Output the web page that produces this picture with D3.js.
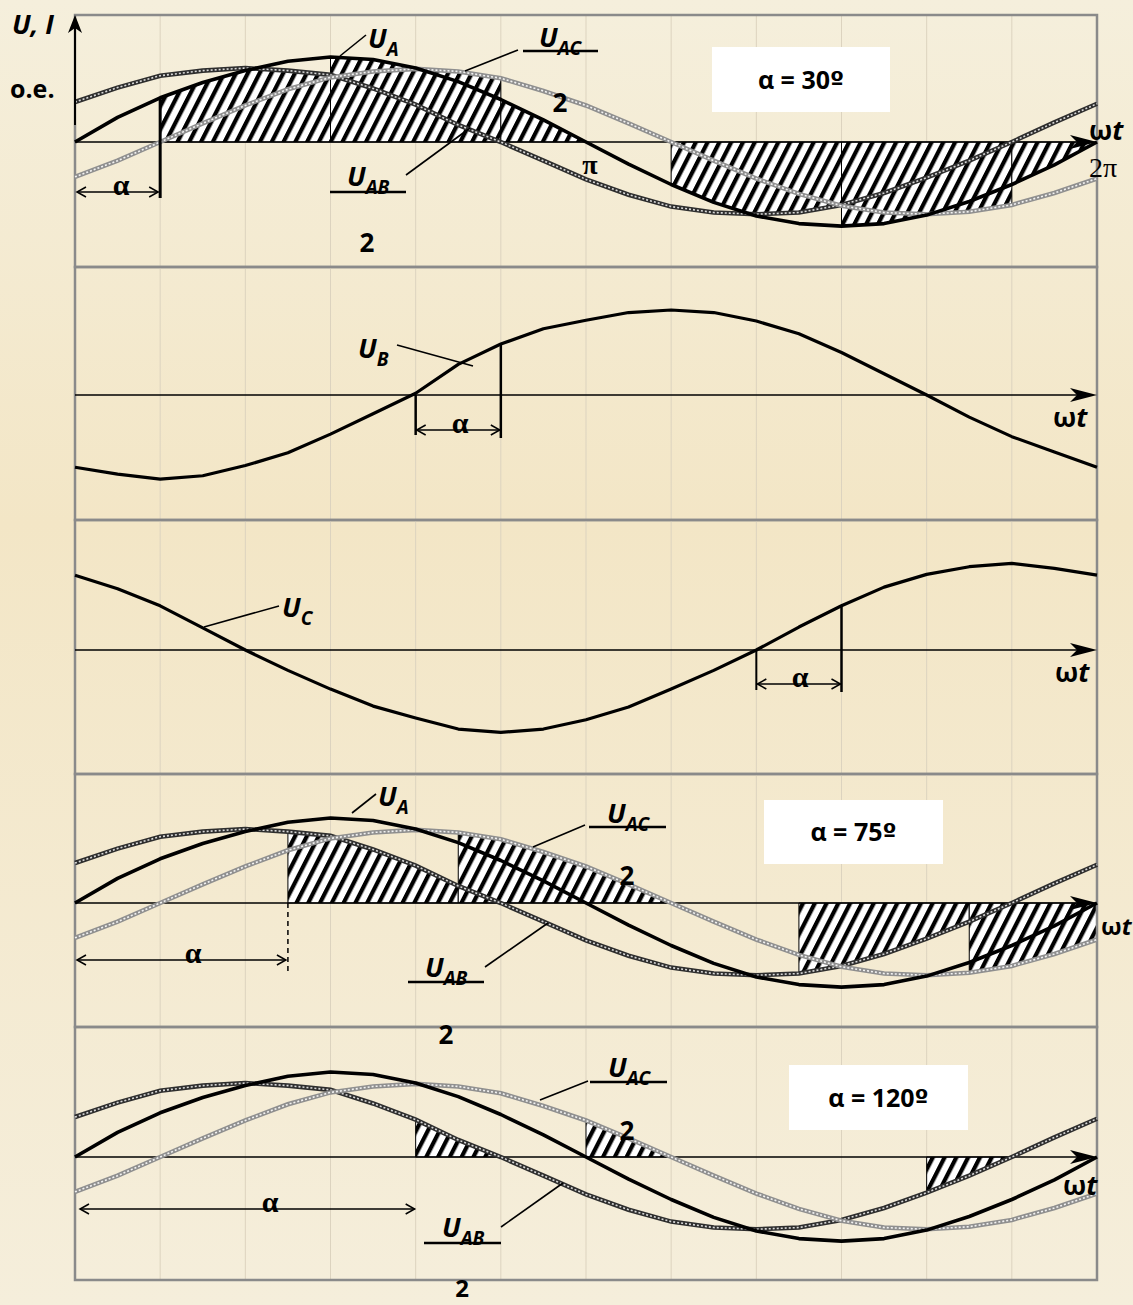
<!DOCTYPE html>
<html>
<head>
<meta charset="utf-8">
<script src="https://cdn.jsdelivr.net/npm/d3@7"></script>
<style>
  html, body { margin: 0; padding: 0; }
  body { width: 1133px; height: 1305px; overflow: hidden; }
  .lbl { font-family: "Open Sans", "Noto Sans", sans-serif; font-weight: bold; font-style: italic; font-size: 27px; fill: #000; }
  .bold { font-family: "Open Sans", "Noto Sans", sans-serif; font-weight: bold; fill: #000; }
  .serif { font-family: "Liberation Serif", "DejaVu Serif", serif; fill: #000; }
</style>
</head>
<body>
<script>
// sample angles (degrees of wt) and curve values in o.e.
const angles = [0, 15, 30, 45, 60, 75, 90, 105, 120, 135, 150, 165, 180, 195, 210, 225, 240, 255, 270, 285, 300, 315, 330, 345, 360];
const uA  = [0, 0.29, 0.52, 0.7, 0.84, 0.95, 1.0, 0.97, 0.87, 0.71, 0.5, 0.26, 0, -0.26, -0.5, -0.71, -0.87, -0.96, -0.99, -0.96, -0.86, -0.7, -0.5, -0.27, 0];
const uB  = [-0.85, -0.93, -0.99, -0.95, -0.83, -0.68, -0.46, -0.22, 0.02, 0.36, 0.6, 0.78, 0.88, 0.97, 1.0, 0.97, 0.87, 0.72, 0.5, 0.25, 0, -0.26, -0.49, -0.67, -0.85];
const uC  = [0.88, 0.72, 0.52, 0.26, 0, -0.24, -0.46, -0.66, -0.8, -0.93, -0.97, -0.93, -0.82, -0.67, -0.46, -0.24, 0, 0.27, 0.52, 0.74, 0.89, 0.98, 1.02, 0.96, 0.88];
const uAB = [0.47, 0.64, 0.78, 0.84, 0.87, 0.84, 0.79, 0.63, 0.44, 0.2, 0, -0.22, -0.44, -0.62, -0.76, -0.83, -0.85, -0.83, -0.74, -0.6, -0.42, -0.22, 0, 0.23, 0.45];
const uAC = [-0.41, -0.22, 0, 0.22, 0.43, 0.62, 0.76, 0.83, 0.86, 0.83, 0.75, 0.6, 0.43, 0.22, 0, -0.22, -0.43, -0.61, -0.75, -0.83, -0.85, -0.82, -0.74, -0.6, -0.43];

const alphas = [30, 75, 120];

// hatched (conducting) intervals: boundary is U_A combined with a line voltage
const hatch30 = [
  { from: 30,  to: 90,  sign: 1,  ref: "AB", mode: "inner" },
  { from: 90,  to: 150, sign: 1,  ref: "AC", mode: "outer" },
  { from: 150, to: 180, sign: 1,  ref: "A",  mode: "own" },
  { from: 210, to: 270, sign: -1, ref: "AB", mode: "inner" },
  { from: 270, to: 330, sign: -1, ref: "AC", mode: "outer" },
  { from: 330, to: 360, sign: -1, ref: "A",  mode: "own" }
];
const hatch75 = [
  { from: 75,  to: 135, sign: 1,  ref: "AB", mode: "inner" },
  { from: 135, to: 210, sign: 1,  ref: "AC", mode: "outer" },
  { from: 255, to: 315, sign: -1, ref: "AB", mode: "inner" },
  { from: 315, to: 360, sign: -1, ref: "AC", mode: "outer" }
];
const hatch120 = [
  { from: 120, to: 150, sign: 1,  ref: "AB", mode: "inner" },
  { from: 180, to: 210, sign: 1,  ref: "AC", mode: "outer" },
  { from: 300, to: 330, sign: -1, ref: "AB", mode: "inner" }
];

const series = { A: uA, B: uB, C: uC, AB: uAB, AC: uAC };

const panels = [
  { top: 15,   bottom: 267,  zero: 142,  lines: ["AB", "AC", "A"], hatch: hatch30 },
  { top: 267,  bottom: 520,  zero: 395,  lines: ["B"], hatch: [] },
  { top: 520,  bottom: 774,  zero: 650,  lines: ["C"], hatch: [] },
  { top: 774,  bottom: 1027, zero: 903,  lines: ["AB", "AC", "A"], hatch: hatch75 },
  { top: 1027, bottom: 1280, zero: 1157, lines: ["AB", "AC", "A"], hatch: hatch120 }
];

const width = 1133, height = 1305;
const svg = d3.select("body").append("svg").attr("width", width).attr("height", height);
const defs = svg.append("defs");

const bg = defs.append("linearGradient").attr("id", "bg")
  .attr("x1", 0).attr("y1", 0).attr("x2", 0).attr("y2", 1);
bg.append("stop").attr("offset", "0%").attr("stop-color", "#f5efdc");
bg.append("stop").attr("offset", "40%").attr("stop-color", "#f3e6c6");
bg.append("stop").attr("offset", "100%").attr("stop-color", "#f5eedb");
svg.append("rect").attr("width", width).attr("height", height).attr("fill", "url(#bg)");

const pat = defs.append("pattern").attr("id", "hatch")
  .attr("patternUnits", "userSpaceOnUse")
  .attr("width", 10.5).attr("height", 10.5)
  .attr("patternTransform", "rotate(27)");
pat.append("rect").attr("width", 10.5).attr("height", 10.5).attr("fill", "#fff");
pat.append("rect").attr("width", 4.2).attr("height", 10.5).attr("fill", "#000");

const x = d3.scaleLinear().domain([0, 360]).range([75, 1097]);
const interp = vals => d3.scaleLinear().domain(angles).range(vals);
const fA = interp(uA);
const gridAngles = angles.filter(a => a % 30 === 0 && a > 0 && a < 360);

function boundary(seg) {
  const fR = interp(series[seg.ref]);
  return t => {
    const a = seg.sign * fA(t), r = seg.sign * fR(t);
    let v = seg.mode === "inner" ? Math.min(a, r) : seg.mode === "outer" ? Math.max(a, r) : a;
    return Math.max(0, v) * seg.sign;
  };
}

const ys = [];
panels.forEach((p, i) => {
  const y = d3.scaleLinear().domain([-1, 1]).range([p.zero + 85, p.zero - 85]);
  ys.push(y);
  const g = svg.append("g");

  // vertical grid every 30 degrees
  g.selectAll("line.grid").data(gridAngles).join("line")
    .attr("class", "grid")
    .attr("x1", d => x(d)).attr("x2", d => x(d))
    .attr("y1", p.top).attr("y2", p.bottom)
    .attr("stroke", "#dcd3bf").attr("stroke-width", 1);

  // hatched areas
  p.hatch.forEach(seg => {
    const f = boundary(seg);
    const pts = [[seg.from, 0]];
    for (let t = seg.from; t <= seg.to + 1e-6; t += 1) pts.push([t, f(t)]);
    pts.push([seg.to, 0]);
    g.append("path")
      .attr("d", d3.line().x(d => x(d[0])).y(d => y(d[1]))(pts) + "Z")
      .attr("fill", "url(#hatch)").attr("stroke", "#000").attr("stroke-width", 1);
  });

  // panel frame
  g.append("rect").attr("x", 75).attr("y", p.top)
    .attr("width", 1022).attr("height", p.bottom - p.top)
    .attr("fill", "none").attr("stroke", "#8a8a8a").attr("stroke-width", 2.5);

  // zero axis with arrow
  g.append("line").attr("x1", x(0)).attr("x2", x(360) - 10)
    .attr("y1", p.zero).attr("y2", p.zero).attr("stroke", "#000").attr("stroke-width", 1.6);
  const tip = x(360);
  g.append("path")
    .attr("d", `M${tip},${p.zero} L${tip - 27},${p.zero - 7} L${tip - 20},${p.zero} L${tip - 27},${p.zero + 7} Z`)
    .attr("fill", "#000");

  // curves
  const line = d3.line().x((d, k) => x(angles[k])).y(d => y(d)).curve(d3.curveLinear);
  p.lines.forEach(key => {
    const d = line(series[key]);
    if (key === "AB") {
      g.append("path").attr("d", d).attr("fill", "none").attr("stroke", "#2e2e2e").attr("stroke-width", 4.6);
      g.append("path").attr("d", d).attr("fill", "none").attr("stroke", "#d8d8d8").attr("stroke-width", 1.6).attr("stroke-dasharray", "2,2");
    } else if (key === "AC") {
      g.append("path").attr("d", d).attr("fill", "none").attr("stroke", "#8f8f8f").attr("stroke-width", 4.6);
      g.append("path").attr("d", d).attr("fill", "none").attr("stroke", "#f2f2f2").attr("stroke-width", 1.6).attr("stroke-dasharray", "2,2");
    } else {
      g.append("path").attr("d", d).attr("fill", "none").attr("stroke", "#000")
        .attr("stroke-width", key === "A" ? 3.6 : 3.2).attr("stroke-linejoin", "round");
    }
  });
});

// ---------- annotation helpers ----------
function uLabel(px, py, sub, ul) {
  const t = svg.append("text").attr("class", "lbl").attr("x", px).attr("y", py);
  t.append("tspan").text("U");
  t.append("tspan").attr("dy", 8).attr("font-size", 19).text(sub);
  if (ul) svg.append("line").attr("x1", ul[0]).attr("x2", ul[1]).attr("y1", ul[2]).attr("y2", ul[2])
    .attr("stroke", "#000").attr("stroke-width", 2.5);
}
function leader(x1, y1, x2, y2) {
  svg.append("line").attr("x1", x1).attr("y1", y1).attr("x2", x2).attr("y2", y2)
    .attr("stroke", "#000").attr("stroke-width", 1.6);
}
function vbar(px, y1, y2, w, dash) {
  svg.append("line").attr("x1", px).attr("x2", px).attr("y1", y1).attr("y2", y2)
    .attr("stroke", "#000").attr("stroke-width", w).attr("stroke-dasharray", dash || null);
}
function dblArrow(x1, x2, py, lx) {
  svg.append("line").attr("x1", x1).attr("x2", x2).attr("y1", py).attr("y2", py)
    .attr("stroke", "#000").attr("stroke-width", 1.5);
  svg.append("path").attr("d", `M${x1 + 9},${py - 5} L${x1},${py} L${x1 + 9},${py + 5}`)
    .attr("fill", "none").attr("stroke", "#000").attr("stroke-width", 1.5);
  svg.append("path").attr("d", `M${x2 - 9},${py - 5} L${x2},${py} L${x2 - 9},${py + 5}`)
    .attr("fill", "none").attr("stroke", "#000").attr("stroke-width", 1.5);
  svg.append("text").attr("class", "serif").attr("x", lx).attr("y", py + 3)
    .attr("text-anchor", "middle").attr("font-size", 30).attr("font-weight", "bold").text("α");
}
function plain(txt, px, py, size, anchor) {
  svg.append("text").attr("class", "bold").attr("x", px).attr("y", py)
    .attr("font-size", size).attr("text-anchor", anchor || "start").text(txt);
}
function wt(px, py, size) {
  const t = svg.append("text").attr("class", "bold").attr("x", px).attr("y", py).attr("font-size", size || 27);
  t.append("tspan").text("ω");
  t.append("tspan").attr("font-style", "italic").text("t");
}
function alphaBox(x1, y1, x2, y2, a) {
  svg.append("rect").attr("x", x1).attr("y", y1).attr("width", x2 - x1).attr("height", y2 - y1).attr("fill", "#fff");
  const t = svg.append("text").attr("class", "bold").attr("x", (x1 + x2) / 2).attr("y", (y1 + y2) / 2 + 9)
    .attr("font-size", 25).attr("text-anchor", "middle");
  t.append("tspan").text(`α = ${a}`);
  t.append("tspan").attr("font-family", "DejaVu Sans").text("º");
}

// ---------- panel 1 (alpha = 30) ----------
const y0 = ys[0];
svg.append("line").attr("x1", 75).attr("x2", 75).attr("y1", 125).attr("y2", 24)
  .attr("stroke", "#000").attr("stroke-width", 2);
svg.append("path").attr("d", "M75,15 L68,33 L75,28 L82,33 Z").attr("fill", "#000");
svg.append("text").attr("class", "lbl").attr("x", 12).attr("y", 34).attr("font-size", 25).text("U, I");
plain("o.e.", 10, 98, 25);

vbar(x(alphas[0]), y0(fA(alphas[0])), 198, 3);
dblArrow(x(0) + 2, x(alphas[0]) - 2, 192, 121);
uLabel(368, 48, "A");
leader(340, 56, 366, 35);
uLabel(539, 47, "AC", [523, 598, 51]);
leader(465, 71, 518, 50);
uLabel(347, 186, "AB", [330, 406, 192]);
leader(406, 175, 470, 128);
plain("2", 560, 112, 26, "middle");
plain("2", 367, 252, 26, "middle");
svg.append("text").attr("class", "serif").attr("x", 590).attr("y", 174).attr("text-anchor", "middle")
  .attr("font-size", 28).attr("font-weight", "bold").text("π");
svg.append("text").attr("class", "serif").attr("x", 1089).attr("y", 177).attr("font-size", 28).text("2π");
wt(1089, 140);
alphaBox(712, 47, 890, 112, alphas[0]);

// ---------- panel 2 (U_B) ----------
const y1 = ys[1];
const bStart = 120;
vbar(x(bStart), panels[1].zero, panels[1].zero + 40, 2.5);
vbar(x(bStart + alphas[0]), y1(interp(uB)(bStart + alphas[0])), panels[1].zero + 43, 2.5);
dblArrow(x(bStart) + 1, x(bStart + alphas[0]) - 1, panels[1].zero + 35, 460);
uLabel(358, 358, "B");
leader(397, 345, 473, 366);
wt(1053, 427);

// ---------- panel 3 (U_C) ----------
const y2 = ys[2];
const cStart = 240;
vbar(x(cStart), panels[2].zero, panels[2].zero + 40, 2);
vbar(x(cStart + alphas[0]), y2(interp(uC)(cStart + alphas[0])), panels[2].zero + 42, 2.5);
dblArrow(x(cStart) + 1, x(cStart + alphas[0]) - 1, panels[2].zero + 34, 800);
uLabel(282, 617, "C");
leader(204, 627, 279, 606);
wt(1055, 682);

// ---------- panel 4 (alpha = 75) ----------
vbar(x(alphas[1]), panels[3].zero, panels[3].zero + 69, 1.5, "5,4");
dblArrow(x(0) + 2, x(alphas[1]) - 2, panels[3].zero + 57, 193);
uLabel(378, 806, "A");
leader(352, 813, 376, 794);
uLabel(607, 823, "AC", [589, 666, 827]);
leader(533, 847, 585, 825);
plain("2", 627, 885, 26, "middle");
uLabel(425, 977, "AB", [408, 484, 982]);
leader(485, 967, 548, 923);
plain("2", 446, 1044, 26, "middle");
wt(1101, 935, 24);
alphaBox(764, 800, 943, 864, alphas[1]);

// ---------- panel 5 (alpha = 120) ----------
dblArrow(x(0) + 5, x(alphas[2]) - 1, panels[4].zero + 52, 270);
uLabel(608, 1077, "AC", [590, 667, 1082]);
leader(540, 1100, 588, 1081);
plain("2", 627, 1140, 26, "middle");
uLabel(442, 1237, "AB", [424, 501, 1243]);
leader(501, 1227, 563, 1183);
plain("2", 462, 1297, 24, "middle");
wt(1063, 1195);
alphaBox(789, 1065, 968, 1130, alphas[2]);
</script>
</body>
</html>
